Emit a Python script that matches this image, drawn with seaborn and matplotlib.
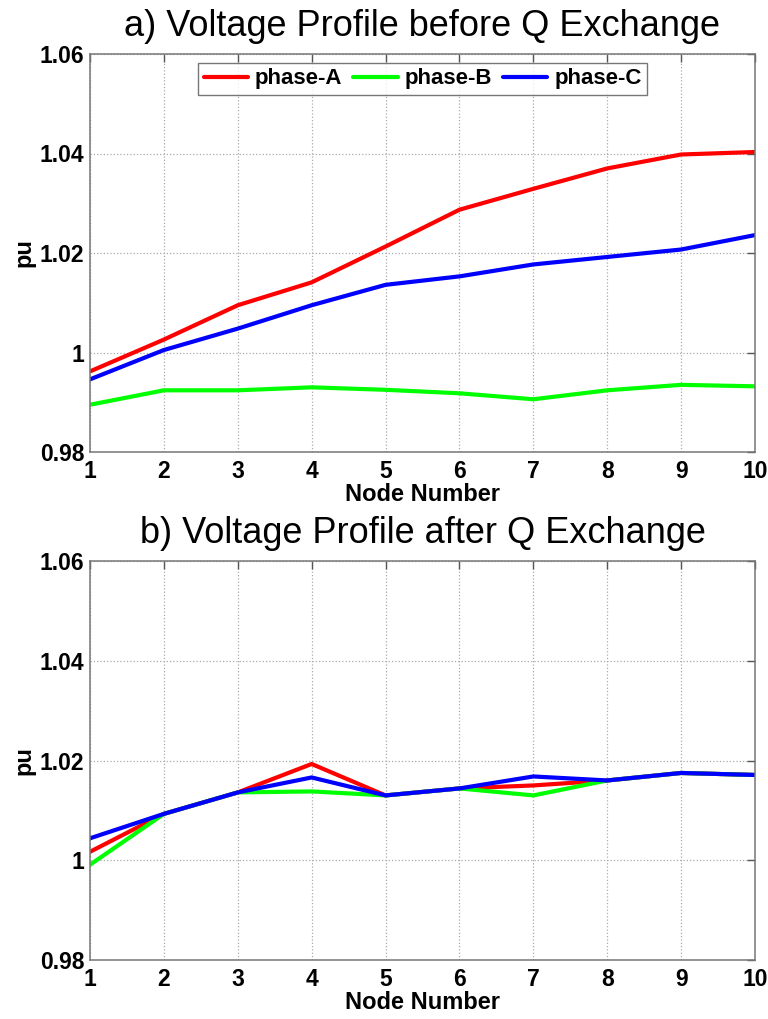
import matplotlib
matplotlib.use("Agg")
import matplotlib.pyplot as plt
import seaborn as sns
import pandas as pd

# data
nodes = [1, 2, 3, 4, 5, 6, 7, 8, 9, 10]

before_a = [0.9962, 1.0026, 1.0095, 1.0141, 1.0213, 1.0287, 1.0329, 1.0370, 1.0398, 1.0403]
before_b = [0.9895, 0.9924, 0.9924, 0.9930, 0.9925, 0.9918, 0.9906, 0.9924, 0.9935, 0.9932]
before_c = [0.9946, 1.0005, 1.0048, 1.0095, 1.0136, 1.0153, 1.0177, 1.0192, 1.0207, 1.0236]

after_a = [1.0017, 1.0093, 1.0136, 1.0193, 1.0130, 1.0144, 1.0150, 1.0160, 1.0175, 1.0171]
after_b = [0.9991, 1.0093, 1.0136, 1.0138, 1.0130, 1.0144, 1.0130, 1.0160, 1.0175, 1.0171]
after_c = [1.0044, 1.0093, 1.0136, 1.0166, 1.0130, 1.0144, 1.0168, 1.0160, 1.0175, 1.0171]

phases = ["phase-A", "phase-B", "phase-C"]
colors = {"phase-A": "#ff0000", "phase-B": "#00ff00", "phase-C": "#0000ff"}

y_ticks = [0.98, 1.00, 1.02, 1.04, 1.06]
y_labels = ["0.98", "1", "1.02", "1.04", "1.06"]

titles = ["a) Voltage Profile before Q Exchange", "b) Voltage Profile after Q Exchange"]


def to_long(a, b, c):
    frames = []
    for name, vals in zip(phases, [a, b, c]):
        frames.append(pd.DataFrame({"node": nodes, "pu": vals, "phase": name}))
    return pd.concat(frames, ignore_index=True)


sns.set_style("white")
plt.rcParams["font.family"] = ["Liberation Sans", "DejaVu Sans"]
plt.rcParams["text.color"] = "black"
plt.rcParams["axes.labelcolor"] = "black"
plt.rcParams["xtick.color"] = "black"
plt.rcParams["ytick.color"] = "black"

fig = plt.figure(figsize=(7.68, 10.19), dpi=100)
ax1 = fig.add_axes([90 / 768, 1 - 452 / 1019, 665 / 768, 398 / 1019])
ax2 = fig.add_axes([90 / 768, 1 - 960 / 1019, 665 / 768, 399 / 1019])

datasets = [to_long(before_a, before_b, before_c), to_long(after_a, after_b, after_c)]

for i, (ax, df, title) in enumerate(zip([ax1, ax2], datasets, titles)):
    sns.lineplot(data=df, x="node", y="pu", hue="phase", palette=colors,
                 linewidth=3, ax=ax, legend=(i == 0))
    ax.set_xlim(1, 10)
    ax.set_ylim(0.98, 1.06)
    ax.set_xticks(nodes)
    ax.set_xticklabels([str(n) for n in nodes], fontsize=16.5, fontweight="bold")
    ax.set_yticks(y_ticks)
    ax.set_yticklabels(y_labels, fontsize=16.5, fontweight="bold")
    ax.tick_params(direction="in", length=6, width=1, color="#555555",
                   labelcolor="black", top=True, right=True)
    ax.tick_params(axis="x", pad=6)
    ax.tick_params(axis="y", pad=4)
    ax.grid(True, linestyle=":", color="#aaaaaa", linewidth=0.9)
    for s in ax.spines.values():
        s.set_color("#777777")
        s.set_linewidth(1.1)
    ax.set_xlabel("Node Number", fontsize=17, fontweight="bold", labelpad=0)
    ax.set_ylabel("pu", fontsize=17, fontweight="bold", labelpad=3)
    ax.set_title(title, fontsize=26, pad=13, color="black")

leg = ax1.legend(loc="upper center", ncol=3, fontsize=16, frameon=True,
                 fancybox=False, handlelength=2.0, handletextpad=0.3,
                 columnspacing=0.5, borderaxespad=0.4, borderpad=0.25)
leg.get_frame().set_edgecolor("#555555")
leg.get_frame().set_linewidth(1)
for t in leg.get_texts():
    t.set_fontweight("bold")
for h in leg.get_lines():
    h.set_linewidth(3)

fig.savefig("out.png", dpi=100)
